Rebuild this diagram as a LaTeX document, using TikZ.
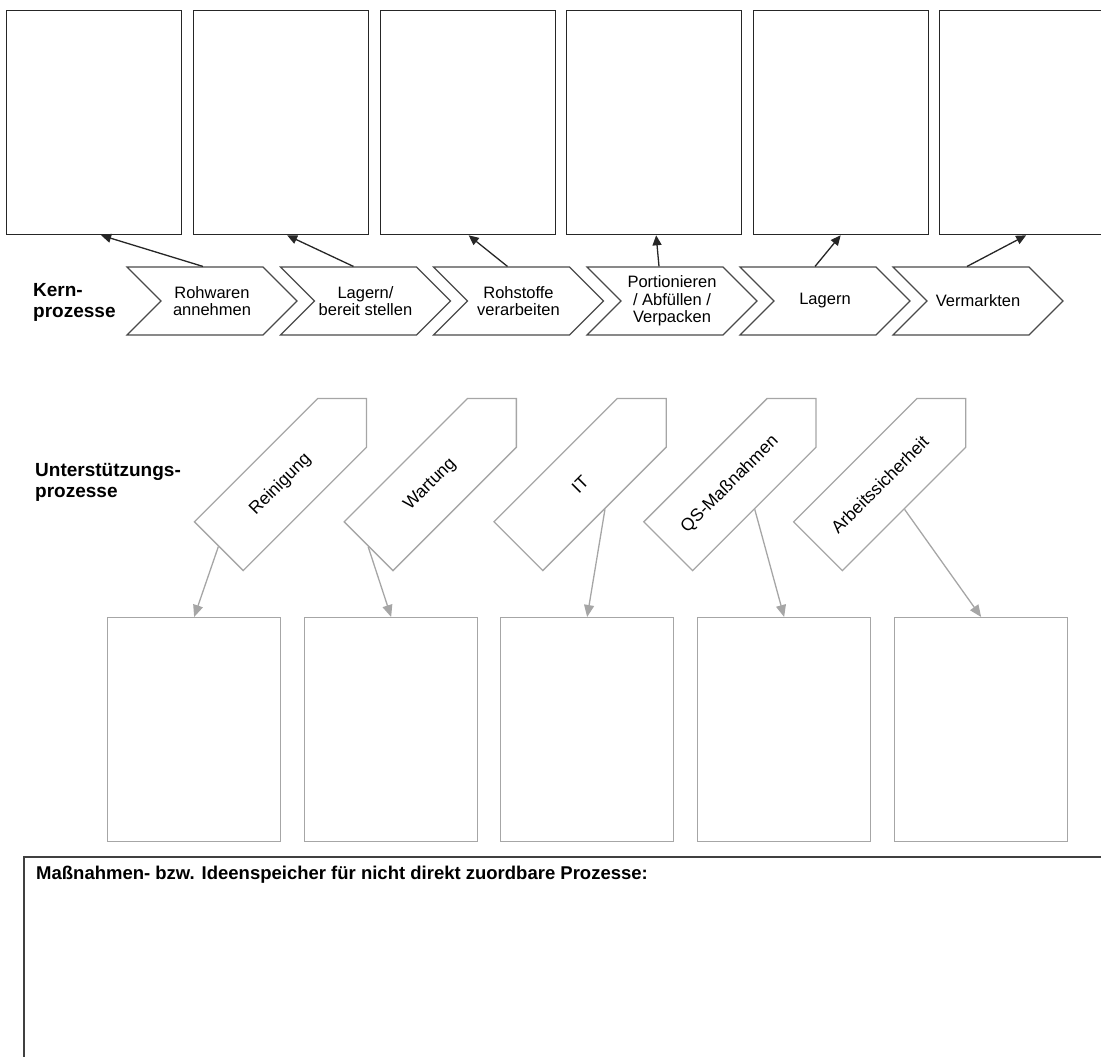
\documentclass[tikz,border=0pt]{standalone}
\usepackage{fontspec}
\setmainfont{Liberation Sans}
\usetikzlibrary{positioning,arrows.meta,shapes.symbols}
\definecolor{cInk}{HTML}{262626}
\definecolor{cChev}{HTML}{4A4A4A}
\definecolor{cSupp}{HTML}{A6A6A6}
\definecolor{cFrame}{HTML}{404040}

\begin{document}
\begin{tikzpicture}[
  x=1pt, y=-1pt,
  font=\fontsize{16.5}{17.5}\selectfont,
  slot/.style={draw=cInk, line width=1.3pt, minimum width=175pt, minimum height=224pt, anchor=north west, inner sep=0pt},
  lslot/.style={draw=cSupp, line width=1.3pt, minimum width=173pt, minimum height=224pt, anchor=north west, inner sep=0pt},
  chev/.style={shape=signal, signal from=west, signal to=east, signal pointer angle=90, draw=cChev, line width=1.1pt, minimum width=170pt, minimum height=68pt, align=center, inner sep=0pt},
  supp/.style={shape=signal, signal to=east, signal pointer angle=90, draw=cSupp, line width=1.3pt, minimum width=209pt, minimum height=69pt, rotate=45, inner sep=0pt, font=\fontsize{17.5}{19}\selectfont},
  up/.style={-{Triangle[length=10pt, width=9pt]}, cInk, line width=1.3pt},
  down/.style={-{Triangle[length=12pt, width=10pt]}, cSupp, line width=1.3pt},
  head/.style={font=\bfseries\fontsize{19}{21}\selectfont, align=left, anchor=west, inner sep=0pt},
]
\useasboundingbox (0,0) rectangle (1101,1057);

% ---------- top: result slots ----------
\node[slot] (b1) at (6,10) {};
\node[slot] (b2) at (193,10) {};
\node[slot] (b3) at (379.5,10) {};
\node[slot] (b4) at (566,10) {};
\node[slot] (b5) at (752.5,10) {};
\node[slot] (b6) at (939,10) {};

% ---------- core processes ----------
\node[head] (kern) at (33,302) {Kern-\\prozesse};
\node[chev] (c1) at (212,301) {Rohwaren\\annehmen};
\node[chev] (c2) at (365.5,301) {Lagern/\\bereit stellen};
\node[chev] (c3) at (518.5,301) {Rohstoffe\\verarbeiten};
\node[chev] (c4) at (672,301) {Portionieren\\/ Abf\"ullen /\\Verpacken};
\node[chev] (c5) at (825,301) {Lagern};
\node[chev] (c6) at (978,301) {Vermarkten};

\draw[up] ([xshift=-9pt]c1.north) -- ([xshift=7pt]b1.south);
\draw[up] ([xshift=-12pt]c2.north) -- ([xshift=6pt]b2.south);
\draw[up] ([xshift=-11pt]c3.north) -- ([xshift=1pt]b3.south);
\draw[up] ([xshift=-13pt]c4.north) -- ([xshift=2pt]b4.south);
\draw[up] ([xshift=-10pt]c5.north) -- (b5.south);
\draw[up] ([xshift=-11pt]c6.north) -- ([xshift=-1pt]b6.south);

% ---------- support processes ----------
\node[head] (unt) at (35,482) {Unterst\"utzungs-\\prozesse};
\node[supp] (s1) at (280.5,484.5) {Reinigung};
\node[supp] (s2) at (430.3,484.5) {Wartung};
\node[supp] (s3) at (580.1,484.5) {IT};
\node[supp] (s4) at (729.9,484.5) {QS-Ma\ss nahmen};
\node[supp] (s5) at (879.7,484.5) {Arbeitssicherheit};

\node[lslot] (l1) at (107,617) {};
\node[lslot] (l2) at (304,617) {};
\node[lslot] (l3) at (500,617) {};
\node[lslot] (l4) at (697,617) {};
\node[lslot] (l5) at (894,617) {};

\draw[down] (s1.west) -- (l1.north);
\draw[down] (s2.west) -- (l2.north);
\draw[down] (s3.south) -- (l3.north);
\draw[down] (s4.south) -- (l4.north);
\draw[down] (s5.south) -- (l5.north);

% ---------- idea store ----------
\node[draw=cFrame, line width=2pt, minimum width=1100pt, minimum height=230pt, anchor=north west, inner sep=0pt] (store) at (23,856) {};
\node[font=\bfseries\fontsize{18.5}{20}\selectfont, anchor=west, inner sep=0pt] (storetxt) at (36,875)
  {Ma\ss nahmen- bzw. Ideenspeicher f\"ur nicht direkt zuordbare Prozesse:};

\end{tikzpicture}
\end{document}
